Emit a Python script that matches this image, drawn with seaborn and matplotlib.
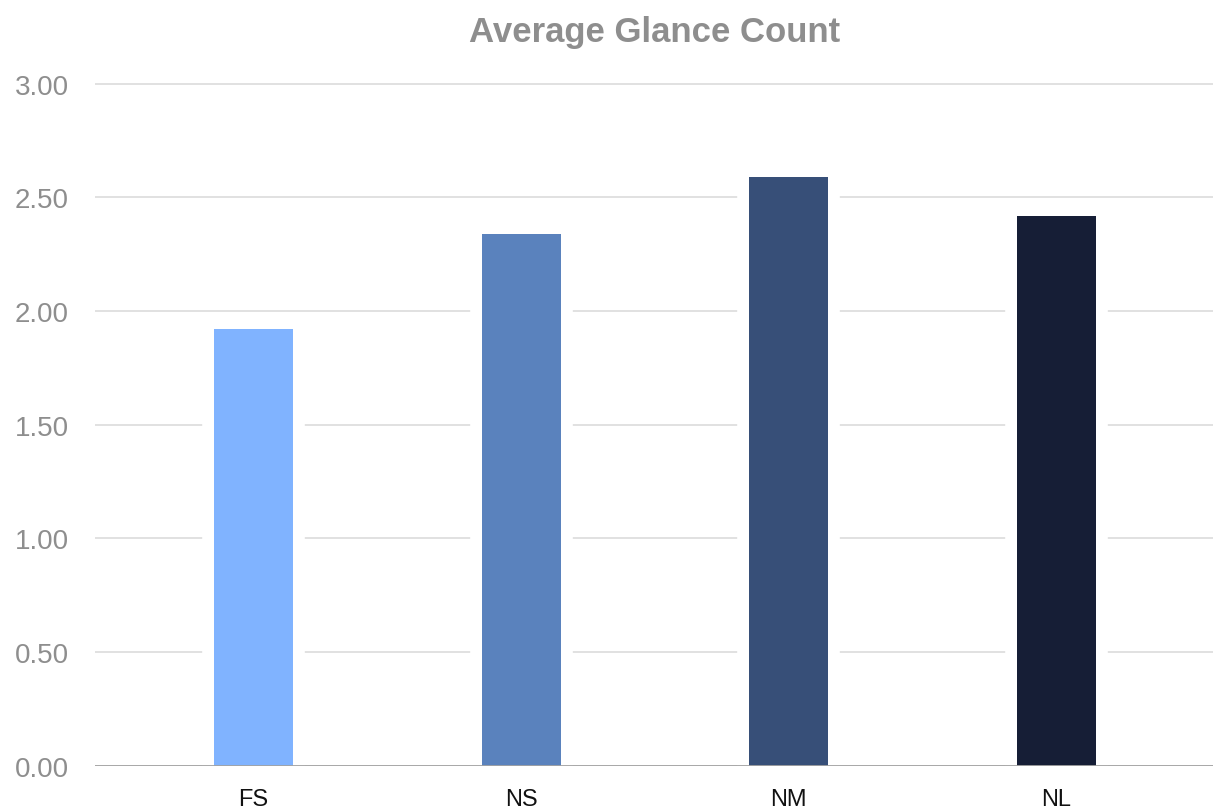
import matplotlib
matplotlib.use("Agg")
import matplotlib.pyplot as plt
import seaborn as sns
import pandas as pd

# Data
conditions = ["FS", "NS", "NM", "NL"]
glance_counts = [1.92, 2.34, 2.59, 2.42]
bar_colors = ["#80B3FF", "#5A82BD", "#374F78", "#161E36"]
y_ticks = [0.0, 0.5, 1.0, 1.5, 2.0, 2.5, 3.0]
y_tick_labels = ["0.00", "0.50", "1.00", "1.50", "2.00", "2.50", "3.00"]

df = pd.DataFrame({"condition": conditions, "count": glance_counts})
palette = dict(zip(conditions, bar_colors))

sns.set_theme(style="white")
plt.rcParams["font.family"] = ["Liberation Sans", "DejaVu Sans"]

fig = plt.figure(figsize=(12.13, 8.12), dpi=100)
ax = fig.add_axes([0.0783, 0.0558, 1.0 - 0.0783, 0.9012 - 0.0558])

# White halo behind each bar so gridlines stop short of the bars
sns.barplot(data=df, x="condition", y="count", hue="condition", palette=palette,
            order=conditions, hue_order=conditions, legend=False, width=0.295,
            saturation=1, edgecolor="white", linewidth=17, zorder=2, ax=ax)
# Actual bars
sns.barplot(data=df, x="condition", y="count", hue="condition", palette=palette,
            order=conditions, hue_order=conditions, legend=False, width=0.295,
            saturation=1, edgecolor="none", linewidth=0, zorder=3, ax=ax)

ax.set_xlim(-0.593, 3.586)
ax.set_ylim(0, 3.02)
ax.set_yticks(y_ticks)
ax.set_yticklabels(y_tick_labels)

ax.set_axisbelow(True)
ax.yaxis.grid(True, color="#d9d9d9", linewidth=1.1, zorder=0)
ax.xaxis.grid(False)
for side in ["top", "right", "left", "bottom"]:
    ax.spines[side].set_visible(False)
ax.axhline(0, color="#a3a3a3", linewidth=1.3, zorder=5)

ax.tick_params(axis="y", length=0, pad=19, labelsize=20, labelcolor="#8e8e8e")
ax.tick_params(axis="x", length=0, pad=16, labelsize=17, labelcolor="#111111")
ax.set_xlabel("")
ax.set_ylabel("")

fig.suptitle("Average Glance Count", x=0.540, y=0.980, fontsize=25,
             fontweight="bold", color="#8e8e8e", va="top")

fig.savefig("out.png", dpi=100)
